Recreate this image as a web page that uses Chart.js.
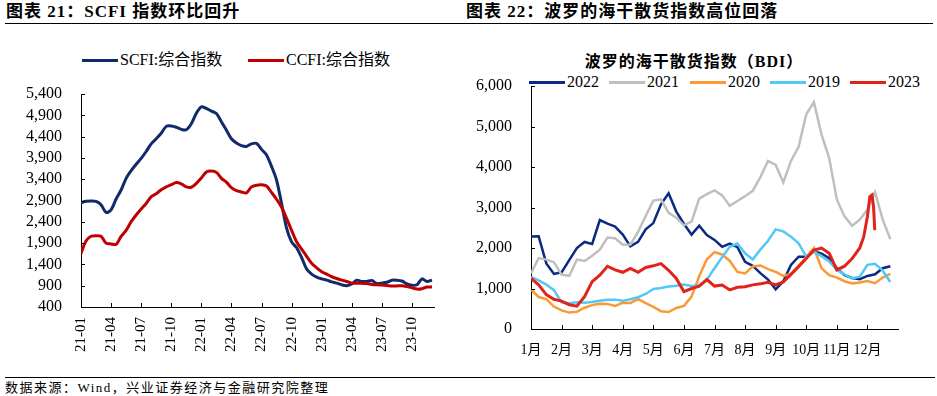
<!DOCTYPE html>
<html><head><meta charset="utf-8">
<script src="https://cdn.jsdelivr.net/npm/chart.js@4.4.0/dist/chart.umd.min.js"></script>
<style>
body{margin:0;width:937px;height:396px;background:#fff;position:relative;overflow:hidden;font-family:"Liberation Serif","Noto Sans CJK SC",serif;color:#000}
.title{position:absolute;top:2px;font-size:17px;font-weight:bold;letter-spacing:1px;white-space:nowrap;line-height:20px}
.rule{position:absolute;height:0;border-top:1.5px solid #000}
.leg{position:absolute;font-size:16px;white-space:nowrap;line-height:18px;display:flex;align-items:center}
.sw{display:inline-block;width:36px;height:3px;margin-right:2px}
canvas{position:absolute}
.sub{position:absolute;left:494px;width:400px;top:52px;text-align:center;font-size:16px;font-weight:bold;letter-spacing:1px;line-height:20px}
.src{position:absolute;left:5px;top:380px;font-size:13px;letter-spacing:1.5px;line-height:16px;white-space:nowrap}
</style></head><body>
<div class="title" style="left:6px">图表 21：SCFI 指数环比回升</div>
<div class="title" style="left:466px">图表 22：波罗的海干散货指数高位回落</div>
<div class="rule" style="left:5px;width:928px;top:23px"></div>
<div class="leg" style="left:82px;top:51px"><span class="sw" style="background:#102a6b"></span>SCFI:综合指数</div>
<div class="leg" style="left:248px;top:51px"><span class="sw" style="background:#c00000"></span>CCFI:综合指数</div>
<div class="sub">波罗的海干散货指数（BDI）</div>
<div class="leg" style="left:529px;top:73px"><span class="sw" style="background:#0c2a80"></span>2022</div>
<div class="leg" style="left:609px;top:73px"><span class="sw" style="background:#bfbfbf"></span>2021</div>
<div class="leg" style="left:690px;top:73px"><span class="sw" style="background:#fa9a36"></span>2020</div>
<div class="leg" style="left:770px;top:73px"><span class="sw" style="background:#52c8f5"></span>2019</div>
<div class="leg" style="left:850px;top:73px"><span class="sw" style="background:#e2231a"></span>2023</div>
<canvas id="c1" width="460" height="365" style="left:0;top:0"></canvas>
<canvas id="c2" width="477" height="365" style="left:460px;top:0"></canvas>
<div class="rule" style="left:5px;width:930px;top:377px;border-top-width:1px"></div>
<div class="src">数据来源：Wind，兴业证券经济与金融研究院整理</div>
<script>
// ---------- Left chart data (half-month steps from 2021-01) ----------
const scfiTickLabels = ['21-01','21-04','21-07','21-10','22-01','22-04','22-07','22-10','23-01','23-04','23-07','23-10'];
const scfiMonths = Array.from({length:71}, (_, i) => i / 2);
const scfi = [2850,2880,2890,2880,2800,2620,2680,2935,3146,3420,3600,3750,3890,4050,4230,4350,4480,4640,4650,4620,
  4570,4560,4700,4950,5100,5060,5000,4940,4750,4550,4350,4250,4190,4170,4230,4240,4100,3970,3700,3380,
  2830,2250,1930,1790,1560,1290,1170,1100,1060,1030,990,960,920,900,940,1030,1000,1000,1020,950,
  960,980,1030,1030,1010,940,910,920,1060,1000,1030];
const ccfi = [1660,1950,2060,2075,2060,1900,1880,1870,2060,2200,2400,2560,2700,2830,2990,3060,3150,3220,3270,3320,
  3290,3220,3210,3300,3430,3570,3590,3560,3420,3330,3200,3130,3100,3080,3220,3260,3270,3240,3090,2930,
  2740,2480,2200,1930,1760,1590,1425,1320,1230,1170,1110,1070,1030,1000,960,960,955,950,930,920,
  915,905,893,895,900,880,850,820,830,870,870];

// ---------- Right chart data (quarter-month steps, month 0 = Jan 1) ----------
const monthLabels = ['1月','2月','3月','4月','5月','6月','7月','8月','9月','10月','11月','12月'];
const bdiGrid = Array.from({length:48}, (_, i) => i / 4);
const bdi2022 = [2285,2287,1620,1360,1400,1700,2000,2150,2100,2690,2600,2530,2330,2040,2150,2460,
  2615,3080,3350,2900,2600,2330,2550,2320,2200,2030,2110,2020,1660,1560,1380,1220,
  980,1180,1580,1786,1786,1920,1860,1750,1500,1330,1260,1230,1310,1350,1500,1550];
const bdi2021 = [1370,1750,1713,1650,1344,1310,1713,1680,1810,1960,2260,2240,2080,2085,2400,2790,
  3170,3200,2870,2750,2560,2650,3220,3330,3420,3300,3040,3160,3280,3410,3750,4150,
  4050,3620,4150,4500,5300,5600,4800,4220,3200,2780,2550,2700,2950,3380,2700,2220];
const bdi2020 = [975,790,740,555,460,405,425,525,590,625,620,570,645,640,740,640,
  545,440,420,520,570,800,1300,1720,1900,1840,1680,1410,1370,1545,1570,1480,
  1410,1310,1360,1550,1780,2000,1500,1330,1270,1180,1127,1150,1185,1130,1270,1360];
const bdi2019 = [1285,1200,1098,960,660,635,660,647,665,700,720,725,695,735,785,865,
  990,1010,1050,1070,1100,1060,1080,1220,1500,1775,2030,2110,1869,1715,1960,2180,
  2460,2410,2280,2115,1790,1905,1800,1670,1465,1350,1251,1290,1585,1610,1440,1160];
const t2023 = [0,0.25,0.5,0.75,1,1.25,1.5,1.75,2,2.25,2.5,2.75,3,3.25,3.5,3.75,4,4.25,4.5,4.75,
  5,5.25,5.5,5.75,6,6.25,6.5,6.75,7,7.25,7.5,7.75,8,8.25,8.5,8.75,9,9.25,9.5,9.75,
  10,10.25,10.5,10.75,10.88,11,11.08,11.15,11.2,11.24];
const bdi2023 = [1250,1090,850,735,688,600,565,800,1170,1330,1550,1460,1400,1498,1400,1520,
  1560,1615,1450,1250,925,1000,1055,1220,1060,1086,965,1030,1045,1090,1115,1155,
  1090,1160,1350,1540,1740,1951,2000,1870,1460,1550,1740,2000,2280,2780,3270,3310,3020,2440];

const AX = '#000';
const pts = (xs, ys) => xs.map((x, i) => ({x, y: ys[i]}));
const serif = '"Liberation Serif", "Noto Sans CJK SC", serif';

const innerTicks = {
  id: 'innerTicks',
  afterDraw(chart, args, opts) {
    const ctx = chart.ctx, xs = chart.scales.x, ys = chart.scales.y;
    ctx.save();
    ctx.strokeStyle = AX; ctx.lineWidth = 1;
    ctx.beginPath();
    ys.ticks.forEach(t => {
      const py = Math.round(ys.getPixelForValue(t.value)) + 0.5;
      ctx.moveTo(xs.left, py); ctx.lineTo(xs.left + opts.len, py);
    });
    xs.ticks.forEach(t => {
      const px = Math.round(xs.getPixelForValue(t.value)) + 0.5;
      ctx.moveTo(px, ys.bottom); ctx.lineTo(px, ys.bottom - opts.len);
    });
    ctx.stroke();
    ctx.restore();
  }
};

new Chart(document.getElementById('c1'), {
  type: 'line',
  data: { datasets: [
    { label: 'SCFI:综合指数', data: pts(scfiMonths, scfi), borderColor: '#102a6b', borderWidth: 3, pointRadius: 0, tension: 0.3, order: 1 },
    { label: 'CCFI:综合指数', data: pts(scfiMonths, ccfi), borderColor: '#c00000', borderWidth: 3, pointRadius: 0, tension: 0.3, order: 0 }
  ]},
  options: {
    responsive: false, animation: false,
    layout: { padding: { top: 94, right: 26, left: 0, bottom: 0 } },
    plugins: { legend: { display: false }, tooltip: { enabled: false }, innerTicks: { len: 4 } },
    scales: {
      x: { type: 'linear', min: 0, max: 35.2,
        afterFit: s => { s.height = 58; },
        afterBuildTicks: s => { s.ticks = scfiTickLabels.map((_, i) => ({ value: i * 3 })); },
        ticks: { callback: (v, i) => scfiTickLabels[i], minRotation: 90, maxRotation: 90, autoSkip: false, padding: 10, color: '#000', font: { family: serif, size: 15 } },
        grid: { drawOnChartArea: false, drawTicks: false }, border: { color: AX, width: 1 } },
      y: { min: 400, max: 5400,
        afterFit: s => { s.width = 81; },
        ticks: { stepSize: 500, autoSkip: false, callback: v => v.toLocaleString('en-US'), padding: 19, color: '#000', font: { family: serif, size: 16 } },
        grid: { drawOnChartArea: false, drawTicks: false }, border: { color: AX, width: 1 } }
    }
  },
  plugins: [innerTicks]
});

new Chart(document.getElementById('c2'), {
  type: 'line',
  data: { datasets: [
    { label: '2022', data: pts(bdiGrid, bdi2022), borderColor: '#0c2a80', borderWidth: 2.5, pointRadius: 0, tension: 0, order: 4 },
    { label: '2021', data: pts(bdiGrid, bdi2021), borderColor: '#bfbfbf', borderWidth: 2.5, pointRadius: 0, tension: 0, order: 3 },
    { label: '2020', data: pts(bdiGrid, bdi2020), borderColor: '#fa9a36', borderWidth: 2.5, pointRadius: 0, tension: 0, order: 2 },
    { label: '2019', data: pts(bdiGrid, bdi2019), borderColor: '#52c8f5', borderWidth: 2.5, pointRadius: 0, tension: 0, order: 1 },
    { label: '2023', data: pts(t2023, bdi2023), borderColor: '#e2231a', borderWidth: 3, pointRadius: 0, tension: 0, order: 0 }
  ]},
  options: {
    responsive: false, animation: false,
    layout: { padding: { top: 86, right: 39, left: 0, bottom: 0 } },
    plugins: { legend: { display: false }, tooltip: { enabled: false }, innerTicks: { len: 4 } },
    scales: {
      x: { type: 'linear', min: 0, max: 12,
        afterFit: s => { s.height = 36; },
        afterBuildTicks: s => { s.ticks = monthLabels.map((_, i) => ({ value: i })); },
        ticks: { callback: (v, i) => monthLabels[i], maxRotation: 0, minRotation: 0, autoSkip: false, padding: 13, color: '#000', font: { family: serif, size: 14 } },
        grid: { drawOnChartArea: false, drawTicks: false }, border: { color: AX, width: 1 } },
      y: { min: 0, max: 6000,
        afterFit: s => { s.width = 71; },
        ticks: { stepSize: 1000, autoSkip: false, callback: v => v.toLocaleString('en-US'), padding: 19, color: '#000', font: { family: serif, size: 16 } },
        grid: { drawOnChartArea: false, drawTicks: false }, border: { color: AX, width: 1 } }
    }
  },
  plugins: [innerTicks]
});
</script>
</body></html>
